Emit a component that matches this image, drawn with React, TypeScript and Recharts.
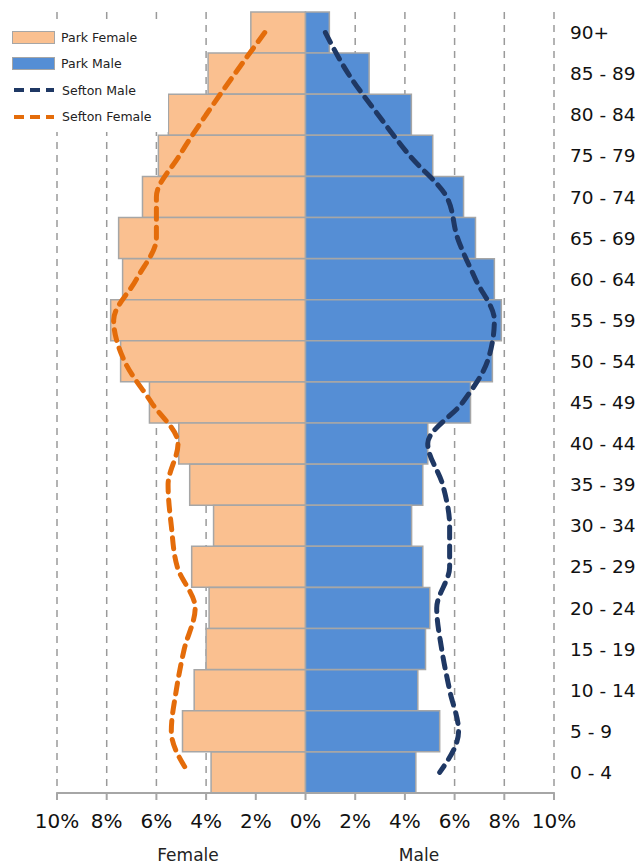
import React from "react";
import {
  ComposedChart,
  Bar,
  Line,
  XAxis,
  YAxis,
  CartesianGrid,
} from "recharts";

// age bands, top of the pyramid first
const ages = [
  "90+", "85 - 89", "80 - 84", "75 - 79", "70 - 74", "65 - 69", "60 - 64",
  "55 - 59", "50 - 54", "45 - 49", "40 - 44", "35 - 39", "30 - 34",
  "25 - 29", "20 - 24", "15 - 19", "10 - 14", "5 - 9", "0 - 4",
];

// % of population
const parkFemale = [
  2.2, 3.92, 5.52, 5.92, 6.56, 7.52, 7.36, 7.84, 7.44, 6.28,
  5.1, 4.66, 3.7, 4.58, 3.88, 4.0, 4.48, 4.95, 3.8,
];
const parkMale = [
  0.96, 2.56, 4.26, 5.12, 6.36, 6.84, 7.6, 7.88, 7.52, 6.64,
  4.92, 4.72, 4.27, 4.72, 5.0, 4.83, 4.52, 5.4, 4.44,
];
const seftonFemale = [
  1.64, 2.84, 4.0, 5.08, 6.0, 6.0, 6.8, 7.72, 7.28, 6.2,
  5.13, 5.53, 5.4, 5.16, 4.44, 4.88, 5.2, 5.4, 4.72,
];
const seftonMale = [
  0.8, 1.72, 2.92, 4.2, 5.68, 6.12, 6.84, 7.6, 7.32, 6.32,
  4.92, 5.52, 5.8, 5.8, 5.28, 5.48, 5.8, 6.16, 5.4,
];

const xTicks = [-10, -8, -6, -4, -2, 0, 2, 4, 6, 8, 10];

const data = ages.map((age, i) => ({
  age,
  parkFemale: -parkFemale[i],
  parkMale: parkMale[i],
  seftonFemale: -seftonFemale[i],
  seftonMale: seftonMale[i],
}));

const FEMALE = "#fac090";
const MALE = "#558ed5";
const SEFTON_F = "#e46c0a";
const SEFTON_M = "#1f3864";
const FONT = "DejaVu Sans";

function LegendBox() {
  const row = { display: "flex", alignItems: "center", height: 26.5 };
  const label = { marginLeft: 6, fontSize: 12.5, color: "#222" };
  return (
    <div
      style={{
        position: "absolute",
        left: 4,
        top: 24,
        width: 156,
        background: "#fff",
        fontFamily: FONT,
        padding: "0 0 2px 8px",
      }}
    >
      <div style={row}>
        <div style={{ width: 41, height: 11, background: FEMALE, border: "1.5px solid #a6a6a6" }} />
        <span style={label}>Park Female</span>
      </div>
      <div style={row}>
        <div style={{ width: 41, height: 11, background: MALE, border: "1.5px solid #a6a6a6" }} />
        <span style={label}>Park Male</span>
      </div>
      <div style={row}>
        <svg width={44} height={8}>
          <line x1={2} y1={4} x2={42} y2={4} stroke={SEFTON_M} strokeWidth={4} strokeDasharray="10 6" />
        </svg>
        <span style={label}>Sefton Male</span>
      </div>
      <div style={row}>
        <svg width={44} height={8}>
          <line x1={2} y1={4} x2={42} y2={4} stroke={SEFTON_F} strokeWidth={4} strokeDasharray="10 6" />
        </svg>
        <span style={label}>Sefton Female</span>
      </div>
    </div>
  );
}

export default function App() {
  return (
    <div
      style={{
        position: "absolute",
        left: 0,
        top: 0,
        width: 641,
        height: 867,
        background: "#fff",
        fontFamily: FONT,
      }}
    >
      <ComposedChart
        width={641}
        height={867}
        data={data}
        layout="vertical"
        stackOffset="sign"
        barCategoryGap={0}
        margin={{ top: 12, right: 0, bottom: 24, left: 57 }}
      >
        <CartesianGrid
          horizontal={false}
          stroke="#9a9a9a"
          strokeWidth={1.5}
          strokeDasharray="7 6"
        />
        <XAxis
          type="number"
          domain={[-10, 10]}
          ticks={xTicks}
          interval={0}
          height={50}
          tickFormatter={(v: number) => `${Math.abs(v)}%`}
          stroke="#a6a6a6"
          strokeWidth={2}
          tickSize={7}
          tickMargin={14}
          tick={{ fill: "#111", fontSize: 20, fontFamily: FONT }}
        />
        <YAxis
          type="category"
          dataKey="age"
          orientation="right"
          width={87}
          axisLine={false}
          tickLine={false}
          tickSize={0}
          tickMargin={16}
          tick={{ fill: "#111", fontSize: 18.5, fontFamily: FONT, textAnchor: "start" }}
        />
        <Bar
          dataKey="parkFemale"
          stackId="a"
          fill={FEMALE}
          stroke="#a6a6a6"
          strokeWidth={1.5}
          isAnimationActive={false}
        />
        <Bar
          dataKey="parkMale"
          stackId="a"
          fill={MALE}
          stroke="#a6a6a6"
          strokeWidth={1.5}
          isAnimationActive={false}
        />
        <Line
          type="monotone"
          dataKey="seftonMale"
          stroke={SEFTON_M}
          strokeWidth={5}
          strokeDasharray="11 8"
          strokeLinecap="round"
          dot={false}
          isAnimationActive={false}
        />
        <Line
          type="monotone"
          dataKey="seftonFemale"
          stroke={SEFTON_F}
          strokeWidth={5}
          strokeDasharray="11 8"
          strokeLinecap="round"
          dot={false}
          isAnimationActive={false}
        />
      </ComposedChart>
      <LegendBox />
      <div style={{ position: "absolute", left: 138, width: 100, top: 845, textAlign: "center", fontSize: 17, color: "#222" }}>
        Female
      </div>
      <div style={{ position: "absolute", left: 369, width: 100, top: 845, textAlign: "center", fontSize: 17, color: "#222" }}>
        Male
      </div>
    </div>
  );
}
